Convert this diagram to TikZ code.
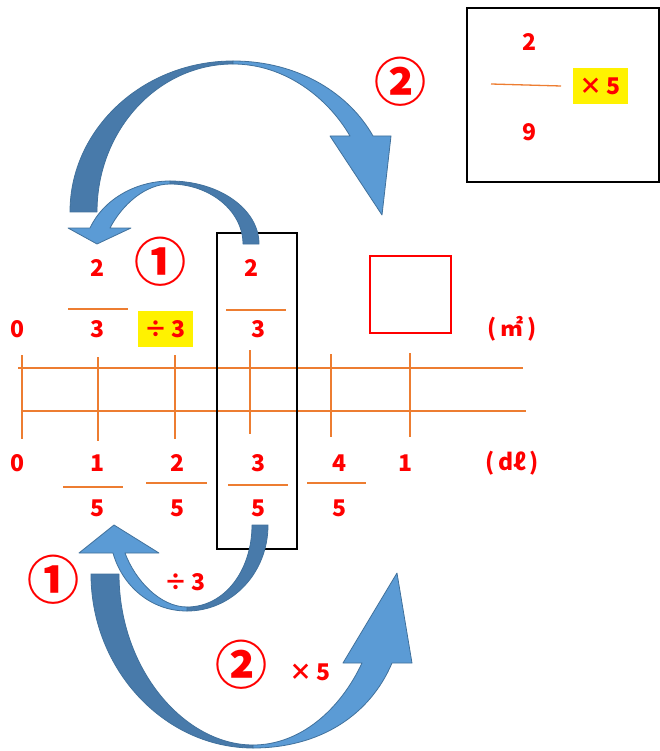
\documentclass[tikz,border=0pt]{standalone}
\usepackage{fontspec}
\setmainfont{Noto Sans CJK JP}
\definecolor{numred}{RGB}{255,0,0}
\definecolor{lineorange}{RGB}{237,125,49}
\definecolor{arrowlight}{RGB}{91,155,213}
\definecolor{arrowdark}{RGB}{72,122,170}
\definecolor{arrowedge}{RGB}{65,113,156}
\begin{document}
\begin{tikzpicture}[x=1pt, y=-1pt,
	num/.style={text=numred, font=\bfseries\fontsize{23}{23}\selectfont, inner sep=0pt},
	circnum/.style={text=numred, font=\bfseries\fontsize{52}{52}\selectfont, inner sep=0pt},
	hilite/.style={fill=yellow, minimum width=55, minimum height=36},
	numline/.style={draw=lineorange, line width=1.3pt},
	fracbar/.style={draw=lineorange, line width=1.3pt},
	lightpart/.style={fill=arrowlight, draw=arrowedge, line width=0.8pt, line join=round},
	darkpart/.style={fill=arrowdark, draw=arrowedge, line width=0.8pt, line join=round}]
		\useasboundingbox (0,0) rectangle (659,751);
		
		% Числовые прямые
		\draw[numline] (18,368) -- (523,368);
		\draw[numline] (23,411) -- (526,411);
		\foreach \x/\a/\b in {22/355/439, 98/357/441, 175/355/439, 250/350/434, 331/354/437, 410/353/437}
		\draw[numline] (\x,\a) -- (\x,\b);
		
		% Верхние подписи (m2)
		\node[num] (mzero) at (18,329) {0};
		\node[num] (mtop1) at (98,268) {2};
		\draw[fracbar] (68,309) -- (128,309);
		\node[num] (mbot1) at (98,329) {3};
		\node[circnum] (onetop) at (160,262) {①};
		\node[num, hilite] (divtop) at (165,329) {÷\,3};
		\node[num] (mtop2) at (251,268) {2};
		\draw[fracbar] (226,310) -- (286,310);
		\node[num] (mbot2) at (258,329) {3};
		\draw[numred, line width=2pt] (370,256) rectangle (451,333);
		\node[num] (munit) at (512,329) {(\,㎡\,)};
		
		% Нижние подписи (dl)
		\node[num] (dzero) at (18,463) {0};
		\node[num] (dtop1) at (98,463) {1};
		\draw[fracbar] (63,487) -- (123,487);
		\node[num] (dbot1) at (98,508) {5};
		\node[num] (dtop2) at (178,463) {2};
		\draw[fracbar] (146,483) -- (207,483);
		\node[num] (dbot2) at (178,508) {5};
		\node[num] (dtop3) at (258,463) {3};
		\draw[fracbar] (228,485) -- (288,485);
		\node[num] (dbot3) at (258,508) {5};
		\node[num] (dtop4) at (339,463) {4};
		\draw[fracbar] (307,483) -- (366,483);
		\node[num] (dbot4) at (339,508) {5};
		\node[num] (done) at (405,463) {1};
		\node[num] (dunit) at (512,463) {(\,dℓ\,)};
		
		% Рамки
		\draw[line width=2pt] (217,233) rectangle (297,549);
		\draw[line width=2pt] (467,8) rectangle (659,182);
		\node[num] (btop) at (529,42) {2};
		\draw[fracbar] (491,84) -- (561,86);
		\node[num, hilite] (timesbox) at (600,86) {×\,5};
		\node[num] (bbot) at (529,132) {9};
		
		% Большая верхняя стрелка
		\draw[darkpart] (70,212) .. controls (70,129) and (143,61) .. (233,61)
		-- (233,64) .. controls (158,64) and (97,130) .. (97,212) -- cycle;
		\draw[lightpart] (233,61) .. controls (300,61) and (350,95) .. (373,136)
		-- (391,136) -- (382,215) -- (330,136) -- (350,136)
		.. controls (328,98) and (285,64) .. (233,64) -- cycle;
		\node[circnum] (twotop) at (400,82) {②};
		
		% Малая верхняя стрелка
		\draw[darkpart] (259,244) .. controls (259,209) and (219,181) .. (170,181)
		-- (170,184) .. controls (210,184) and (243,211) .. (243,244) -- cycle;
		\draw[lightpart] (170,181) .. controls (135,181) and (103,200) .. (90,228)
		-- (68,228) -- (97,244) -- (131,228) -- (110,228)
		.. controls (122,205) and (145,184) .. (170,184) -- cycle;
		
		% Малая нижняя стрелка
		\draw[darkpart] (268,525) .. controls (268,573) and (232,611) .. (187,611)
		-- (187,607) .. controls (225,607) and (252,570) .. (252,525) -- cycle;
		\draw[lightpart] (187,611) .. controls (150,611) and (122,585) .. (113,553)
		-- (79,553) -- (114,525) -- (159,553) -- (125,553)
		.. controls (135,580) and (160,607) .. (187,607) -- cycle;
		\node[circnum] (onebot) at (53,580) {①};
		\node[num] (divbot) at (185,582) {÷\,3};
		
		% Большая нижняя стрелка
		\draw[darkpart] (91,574) .. controls (91,670) and (165,748) .. (253,748)
		-- (253,745) .. controls (185,745) and (119,670) .. (119,574) -- cycle;
		\draw[lightpart] (253,748) .. controls (320,748) and (370,715) .. (392,663)
		-- (412,663) -- (397,573) -- (343,663) -- (362,663)
		.. controls (340,710) and (300,745) .. (253,745) -- cycle;
		\node[circnum] (twobot) at (241,665) {②};
		\node[num] (timesbot) at (310,672) {×\,5};
		
\end{tikzpicture}
\end{document}
